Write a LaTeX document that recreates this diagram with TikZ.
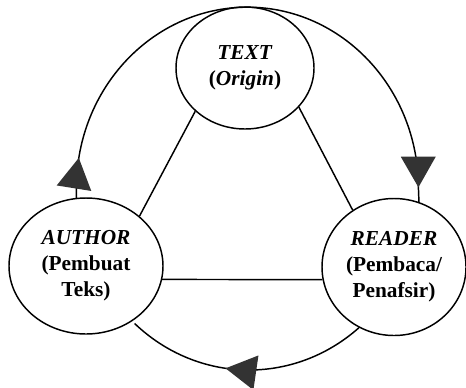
\documentclass[tikz,border=0pt]{standalone}
\usepackage{fontspec}
\setmainfont{Liberation Serif}
\usepackage{xcolor}
\usetikzlibrary{shapes.geometric}
\usetikzlibrary{arrows.meta}
\usetikzlibrary{decorations.markings}
\definecolor{tipgray}{HTML}{333333}

\begin{document}
\begin{tikzpicture}[x=0.75pt, y=0.75pt,
  role/.style={draw, ellipse, line width=1.1pt, inner sep=0pt, align=center, font=\fontsize{16}{19.5}\selectfont\bfseries},
  link/.style={line width=1.1pt},
  tipmark/.style={postaction={decorate, decoration={markings, mark=at position #1 with {\arrow[tipgray]{Triangle[width=26pt, length=23pt]}}}}}
]
\useasboundingbox (0,0) rectangle (466,387);

% Nodes
\node[role, minimum width=103.5pt, minimum height=91.5pt] (TEXT) at (245,319) {\textit{TEXT}\\(\textit{Origin})};
\node[role, minimum width=115.5pt, minimum height=102pt] (AUTHOR) at (86,121) {\textit{AUTHOR}\\(Pembuat\\Teks)};
\node[role, minimum width=108pt, minimum height=102.75pt] (READER) at (394,120) {\textit{READER}\\(Pembaca/\\Penafsir)};

% Edges
\draw[link] (TEXT.221) -- (AUTHOR.43);
\draw[link] (TEXT.-36) -- (READER.126);
\draw[link] (AUTHOR.-10) -- (READER.190);

% Cycle
\draw[link, tipmark=30pt, tipmark=-11pt] (AUTHOR.98) -- ++(0,9.6) arc[start angle=180, end angle=0, x radius=128.25pt, y radius=135.75pt] -- (READER.69);
\draw[link, tipmark=108pt] (READER.240) arc[start angle=310, end angle=228, x radius=128.25pt, y radius=135.75pt];

\end{tikzpicture}
\end{document}
